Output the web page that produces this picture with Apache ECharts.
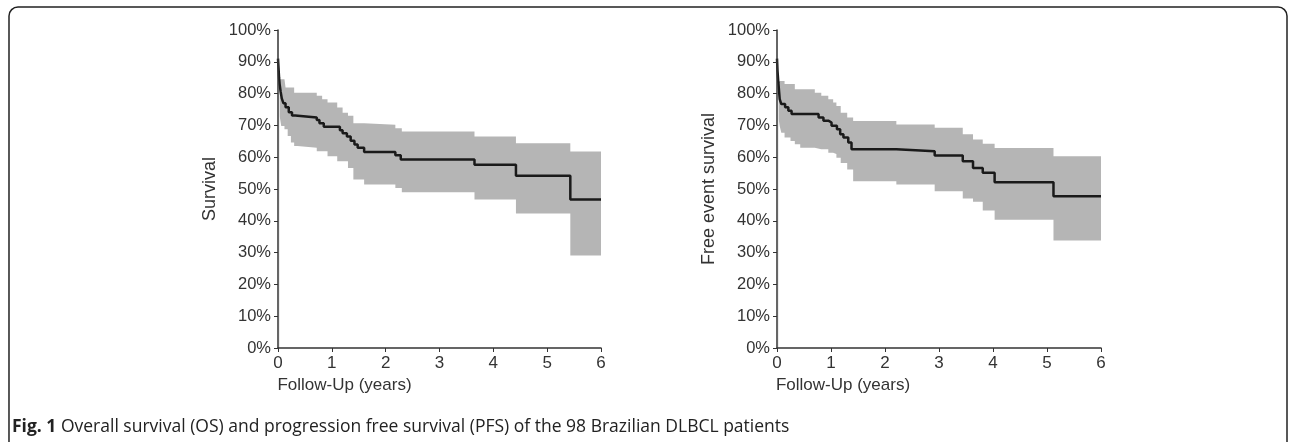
<!DOCTYPE html>
<html>
<head>
<meta charset="utf-8">
<script src="https://cdn.jsdelivr.net/npm/echarts@6/dist/echarts.min.js"></script>
<style>
  html, body { margin: 0; padding: 0; background: #fff; }
  #chart { width: 1292px; height: 442px; }
</style>
</head>
<body>
<div id="chart"></div>
<script>
// Overall survival (left) - Kaplan-Meier steps [years, %]
const osTime = [0, 0.01, 0.02, 0.03, 0.05, 0.07, 0.1, 0.14, 0.2, 0.26, 0.32, 0.72, 0.77, 0.85, 1.15, 1.2, 1.28, 1.35, 1.42, 1.48, 1.6, 2.18, 2.28, 3.65, 4.42, 5.43, 6.0];
const osSurv = [91, 88, 85, 83, 80.5, 78.5, 77, 75.7, 74.1, 73.1, 72.5, 71.7, 70.7, 69.6, 68.5, 67.5, 66.5, 65.2, 64.0, 63.0, 61.6, 60.6, 59.3, 57.6, 54.2, 46.7, 46.7];
// OS confidence band
const osBandTime = [0.03, 0.06, 0.12, 0.14, 0.18, 0.24, 0.3, 0.36, 0.72, 0.82, 0.92, 1.1, 1.2, 1.3, 1.4, 1.6, 2.18, 2.3, 3.65, 4.42, 5.43, 6.0];
const osLower = [73, 69.8, 68.8, 68.8, 66.7, 64.6, 63.5, 63.0, 61.9, 61.9, 60.3, 58.7, 58.7, 56.6, 53.0, 51.4, 50.3, 49.0, 46.7, 42.3, 29.1, 29.1];
const osUpper = [84.5, 84.5, 84.5, 81.9, 81.9, 81.9, 80.3, 80.3, 79.3, 78.2, 77.2, 75.6, 74.0, 73.0, 70.7, 70.2, 69.1, 68.1, 66.5, 64.4, 61.8, 61.8];

// Progression free survival (right)
const pfsTime = [0, 0.01, 0.025, 0.05, 0.08, 0.15, 0.21, 0.27, 0.77, 0.86, 0.95, 1.01, 1.11, 1.17, 1.23, 1.32, 1.38, 2.21, 2.92, 3.44, 3.63, 3.81, 4.03, 5.12, 6.0];
const pfsSurv = [91, 87, 83.5, 78.3, 76.7, 75.7, 74.6, 73.6, 72.5, 71.5, 70.9, 69.9, 68.8, 67.2, 66.2, 64.6, 62.5, 61.9, 60.5, 58.7, 56.6, 55.1, 52.1, 47.7, 47.7];
const pfsBandTime = [0.03, 0.05, 0.08, 0.14, 0.25, 0.33, 0.43, 0.7, 0.82, 0.95, 1.04, 1.1, 1.18, 1.3, 1.41, 2.21, 2.92, 3.44, 3.63, 3.81, 4.03, 5.12, 6.0];
const pfsLower = [72, 69.8, 67.7, 66.2, 65.1, 64.1, 63.0, 62.5, 62.5, 61.4, 61.0, 59.8, 58.2, 56.1, 52.4, 51.4, 49.3, 47.0, 46.0, 43.2, 40.3, 33.8, 33.8];
const pfsUpper = [84.0, 84.0, 84.0, 83.0, 83.0, 81.4, 81.4, 80.3, 79.3, 78.2, 77.2, 76.1, 74.0, 72.5, 71.4, 70.3, 69.3, 67.2, 65.6, 64.2, 62.9, 60.3, 60.3];

const xTicks = [0, 1, 2, 3, 4, 5, 6];
const yTitles = ["Survival", "Free event survival"];
const xTitle = "Follow-Up (years)";

const font = "Liberation Sans";
const axisColor = "#333";
const bandColor = "#b5b5b5";

const pairs = (xs, ys) => xs.map((x, i) => [x, ys[i]]);

const makeX = (idx, padRight) => ({
  type: "value",
  gridIndex: idx,
  z: 10,
  min: xTicks[0],
  max: xTicks[xTicks.length - 1],
  interval: 1,
  name: xTitle,
  nameLocation: "middle",
  nameGap: 27,
  nameTextStyle: { fontFamily: font, fontSize: 17, color: "#333", padding: [0, padRight, 0, 0] },
  axisLine: { lineStyle: { color: axisColor, width: 1.5 } },
  axisTick: { length: 4, lineStyle: { color: axisColor } },
  axisLabel: { fontFamily: font, fontSize: 17, color: "#333", margin: 7 },
  splitLine: { show: false },
});
const makeY = (idx, title) => ({
  type: "value",
  gridIndex: idx,
  z: 10,
  min: 0,
  max: 100,
  interval: 10,
  name: title,
  nameLocation: "middle",
  nameGap: 59,
  nameTextStyle: { fontFamily: font, fontSize: 18, color: "#333" },
  axisLine: { show: true, lineStyle: { color: axisColor, width: 1.5 } },
  axisTick: { show: true, length: 4, lineStyle: { color: axisColor } },
  axisLabel: { fontFamily: font, fontSize: 16.5, color: "#333", margin: 7, formatter: "{value}%" },
  splitLine: { show: false },
});

// band = grey area under the upper limit, then a white area under the lower limit on top of it
const bandSeries = (idx, t, lo, hi) => [
  {
    type: "line",
    xAxisIndex: idx,
    yAxisIndex: idx,
    step: "end",
    symbol: "none",
    silent: true,
    lineStyle: { opacity: 0 },
    areaStyle: { color: bandColor, opacity: 1 },
    data: pairs(t, hi),
    z: 1,
  },
  {
    type: "line",
    xAxisIndex: idx,
    yAxisIndex: idx,
    step: "end",
    symbol: "none",
    silent: true,
    lineStyle: { opacity: 0 },
    areaStyle: { color: "#fff", opacity: 1 },
    data: pairs(t, lo),
    z: 2,
  },
];
const kmSeries = (idx, t, s) => ({
  type: "line",
  xAxisIndex: idx,
  yAxisIndex: idx,
  step: "end",
  symbol: "none",
  lineStyle: { color: "#1a1a1a", width: 2.5 },
  data: pairs(t, s),
  z: 5,
});

const chart = echarts.init(document.getElementById("chart"));
chart.setOption({
  animation: false,
  grid: [
    { left: 278, top: 30, width: 323, height: 318 },
    { left: 777, top: 30, width: 324, height: 318 },
  ],
  xAxis: [makeX(0, 190), makeX(1, 192)],
  yAxis: [makeY(0, yTitles[0]), makeY(1, yTitles[1])],
  series: [
    ...bandSeries(0, osBandTime, osLower, osUpper),
    kmSeries(0, osTime, osSurv),
    ...bandSeries(1, pfsBandTime, pfsLower, pfsUpper),
    kmSeries(1, pfsTime, pfsSurv),
  ],
  graphic: [
    {
      type: "rect",
      shape: { x: 9, y: 7, width: 1278, height: 460, r: 9 },
      style: { fill: "none", stroke: "#222", lineWidth: 1.5 },
      silent: true,
    },
    {
      type: "text",
      left: 12,
      top: 418,
      style: {
        text: "{b|Fig. 1} Overall survival (OS) and progression free survival (PFS) of the 98 Brazilian DLBCL patients",
        font: "17.5px 'Open Sans'",
        fill: "#222",
        rich: { b: { fontWeight: "bold", fontFamily: "Open Sans", fontSize: 17.5, fill: "#222" } },
      },
    },
  ],
});
</script>
</body>
</html>
